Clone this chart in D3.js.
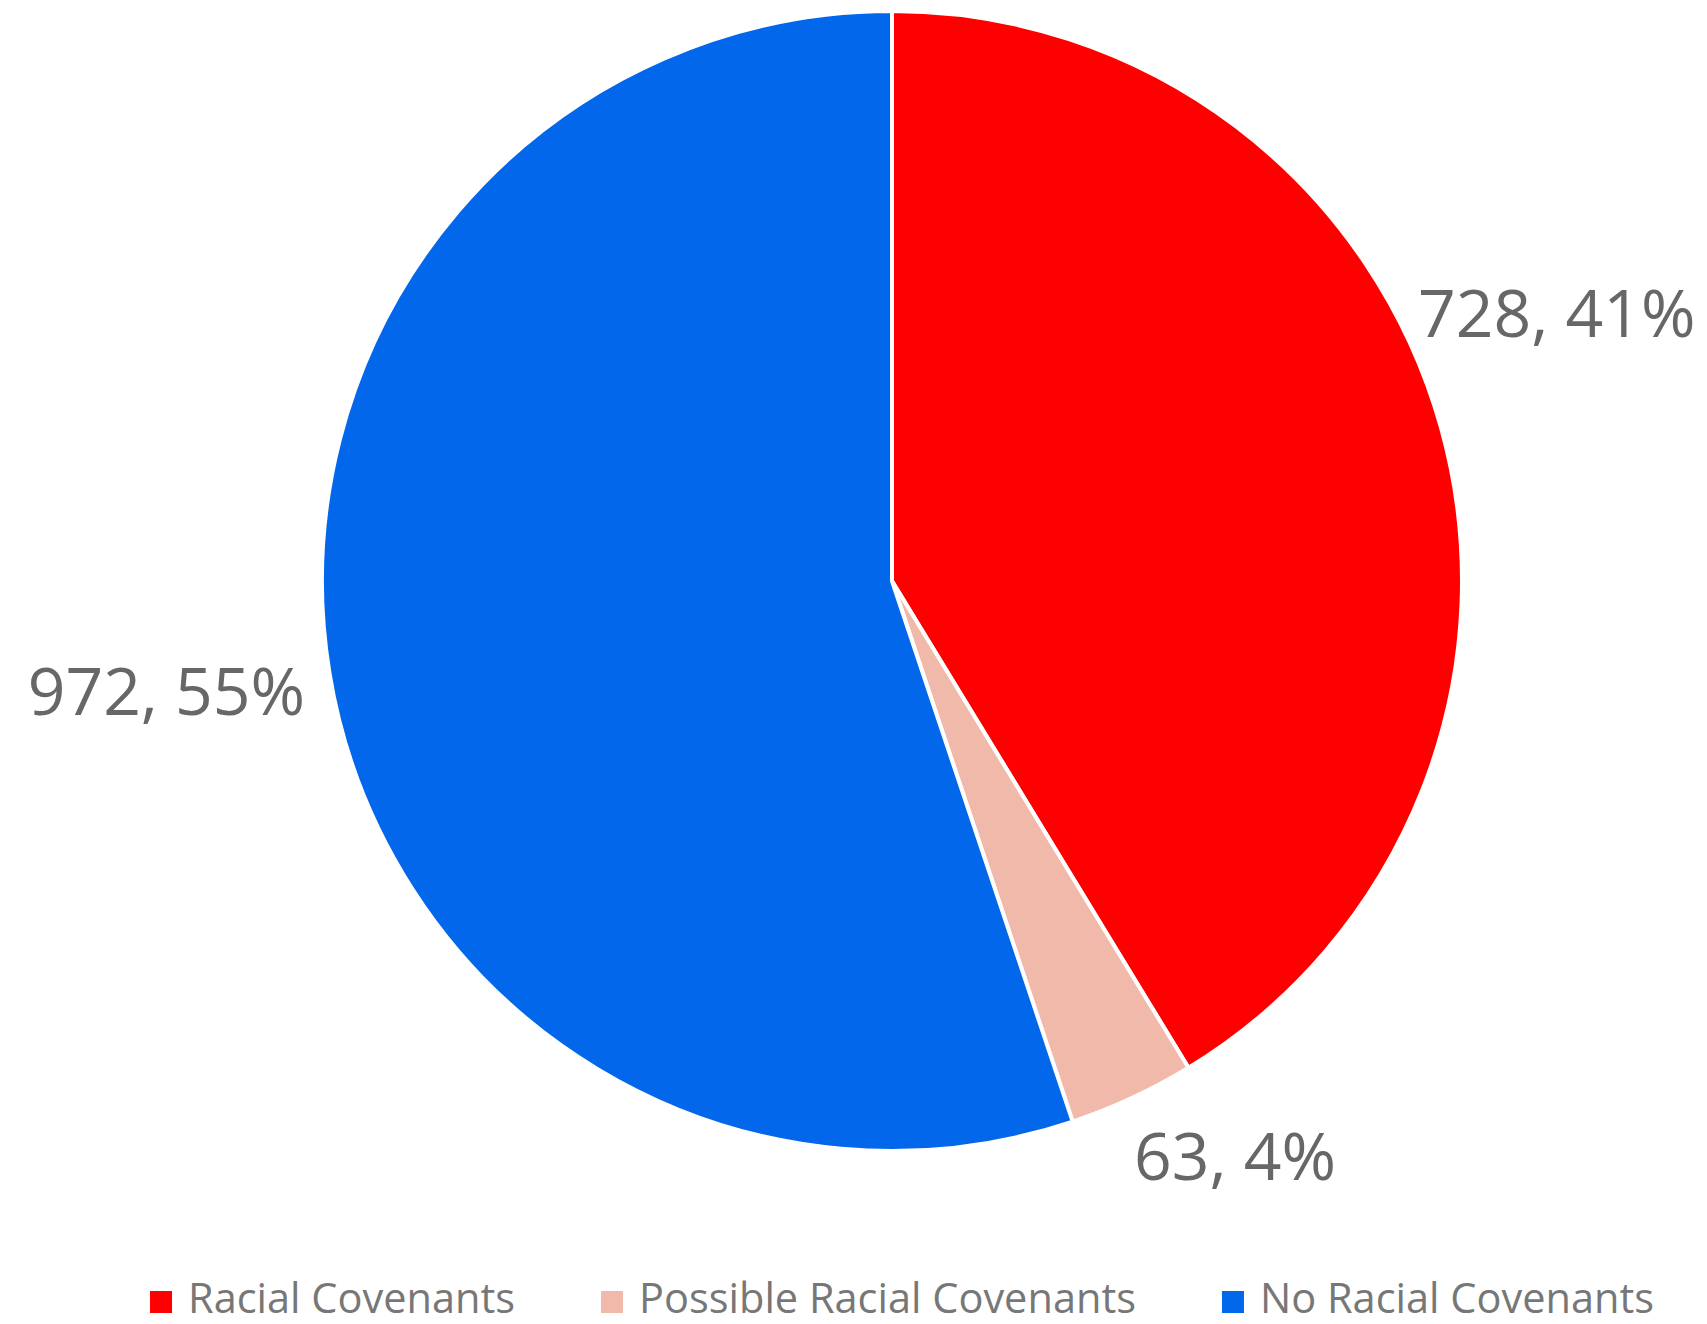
<!DOCTYPE html>
<html>
<head>
<meta charset="utf-8">
<script src="https://cdn.jsdelivr.net/npm/d3@7"></script>
<style>
  html, body { margin: 0; padding: 0; background: #ffffff; }
  svg { display: block; }
</style>
</head>
<body>
<svg id="chart" width="1707" height="1324"></svg>
<script>
// Deed survey results: counts per covenant category
const categories = ["Racial Covenants", "Possible Racial Covenants", "No Racial Covenants"];
const counts = [728, 63, 972];
const percentLabels = ["41%", "4%", "55%"];
const sliceColors = ["#ff0000", "#f0b9aa", "#0367eb"];

// Label nudges from the point on the rim at each slice's mid angle
const labelNudges = [[116, -114], [103, 58], [-163, 19]];

const width = 1707, height = 1324;
const cx = 892, cy = 581, radius = 570;

const svg = d3.select("#chart");
const font = "'Open Sans', 'Noto Sans', sans-serif";

const rows = categories.map((c, i) => ({
  category: c, count: counts[i], pct: percentLabels[i],
  color: sliceColors[i], nudge: labelNudges[i]
}));

const pie = d3.pie().sort(null).value(d => d.count).startAngle(0).endAngle(2 * Math.PI);
const arcs = pie(rows);
const arc = d3.arc().innerRadius(0).outerRadius(radius);

const g = svg.append("g").attr("transform", `translate(${cx},${cy})`);

g.selectAll("path.slice")
  .data(arcs)
  .join("path")
  .attr("class", "slice")
  .attr("d", arc)
  .attr("fill", d => d.data.color)
  .attr("stroke", "#ffffff")
  .attr("stroke-width", 4)
  .attr("stroke-linejoin", "round");

// Value labels outside the pie
g.selectAll("text.value")
  .data(arcs)
  .join("text")
  .attr("class", "value")
  .attr("x", d => {
    const a = (d.startAngle + d.endAngle) / 2;
    return radius * Math.sin(a) + d.data.nudge[0];
  })
  .attr("y", d => {
    const a = (d.startAngle + d.endAngle) / 2;
    return -radius * Math.cos(a) + d.data.nudge[1];
  })
  .attr("dy", "0.357em")
  .attr("text-anchor", "middle")
  .attr("font-family", font)
  .attr("font-size", 66)
  .attr("fill", "#676767")
  .text(d => `${d3.format(",")(d.data.count)}, ${d.data.pct}`);

// Legend along the bottom, laid out by measured text widths
const legend = svg.append("g").attr("class", "legend");
const swatch = 22, swatchGap = 16, itemGap = 86, legendBaseline = 1313, legendCenter = 902;

const items = legend.selectAll("g.item")
  .data(rows)
  .join("g")
  .attr("class", "item");

items.append("rect")
  .attr("width", swatch)
  .attr("height", swatch)
  .attr("y", legendBaseline - swatch)
  .attr("fill", d => d.color);

items.append("text")
  .attr("y", legendBaseline)
  .attr("font-family", font)
  .attr("font-size", 41.5)
  .attr("fill", "#777777")
  .text(d => d.category);

const widths = [];
items.each(function () {
  widths.push(swatch + swatchGap + d3.select(this).select("text").node().getComputedTextLength());
});
const total = d3.sum(widths) + itemGap * (widths.length - 1);
let x = legendCenter - total / 2;
items.each(function (d, i) {
  const item = d3.select(this);
  item.select("rect").attr("x", x);
  item.select("text").attr("x", x + swatch + swatchGap);
  x += widths[i] + itemGap;
});
</script>
</body>
</html>
